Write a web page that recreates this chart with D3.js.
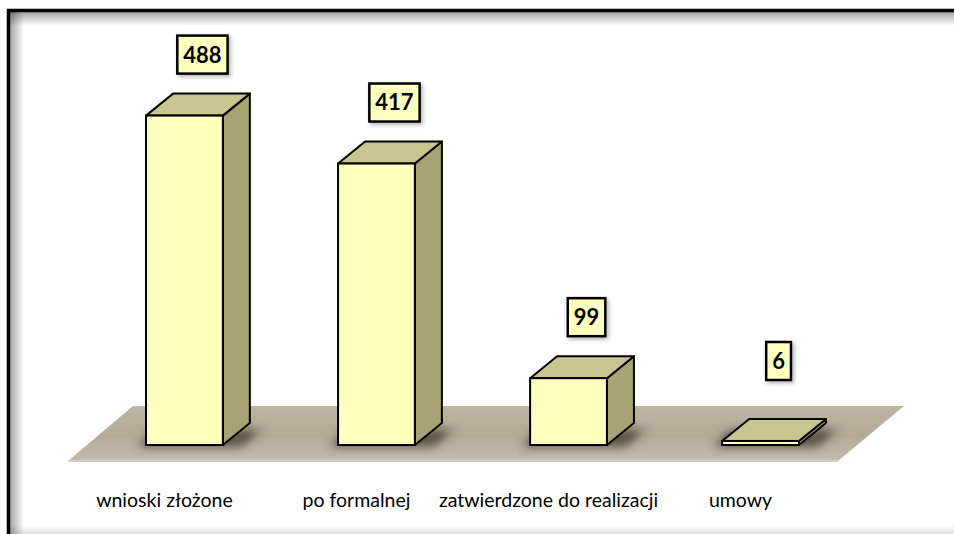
<!DOCTYPE html>
<html>
<head>
<meta charset="utf-8">
<script src="https://cdn.jsdelivr.net/npm/d3@7"></script>
<style>
  html, body { margin: 0; padding: 0; background: #fff; overflow: hidden; }
  svg { display: block; }
</style>
</head>
<body>
<script>
'use strict';

// chart values
const categories = ["wnioski złożone", "po formalnej", "zatwierdzone do realizacji", "umowy"];
const values = [488, 417, 99, 6];
const valueLabels = ["488", "417", "99", "6"];

(function() {

    const W = 954, H = 534;
    const depth = { dx: 27, dy: -22 };

    const svg = d3.select("body").append("svg")
        .attr("width", W)
        .attr("height", H);

    const defs = svg.append("defs");

    // soft shadows
    const blur = defs.append("filter").attr("id", "blur")
        .attr("x", "-50%").attr("y", "-50%").attr("width", "200%").attr("height", "200%");
    blur.append("feGaussianBlur").attr("stdDeviation", 5);

    const drop = defs.append("filter").attr("id", "drop")
        .attr("x", "-30%").attr("y", "-30%").attr("width", "160%").attr("height", "160%");
    drop.append("feDropShadow").attr("dx", 2).attr("dy", 2)
        .attr("stdDeviation", 2).attr("flood-color", "#000").attr("flood-opacity", 0.3);

    // floor gradient
    const fg = defs.append("linearGradient").attr("id", "floorGrad")
        .attr("x1", 0).attr("y1", 0).attr("x2", 0).attr("y2", 1);
    fg.append("stop").attr("offset", "0%").attr("stop-color", "#bdb4a3");
    fg.append("stop").attr("offset", "55%").attr("stop-color", "#b3aa98");
    fg.append("stop").attr("offset", "100%").attr("stop-color", "#c4bcad");

    // frame shading
    const topG = defs.append("linearGradient").attr("id", "topShade")
        .attr("x1", 0).attr("y1", 0).attr("x2", 0).attr("y2", 1);
    topG.append("stop").attr("offset", "0%").attr("stop-color", "#000").attr("stop-opacity", 0.35);
    topG.append("stop").attr("offset", "100%").attr("stop-color", "#000").attr("stop-opacity", 0);
    const leftG = defs.append("linearGradient").attr("id", "leftShade")
        .attr("x1", 0).attr("y1", 0).attr("x2", 1).attr("y2", 0);
    leftG.append("stop").attr("offset", "0%").attr("stop-color", "#000").attr("stop-opacity", 0.35);
    leftG.append("stop").attr("offset", "100%").attr("stop-color", "#000").attr("stop-opacity", 0);
    const botG = defs.append("linearGradient").attr("id", "botShade")
        .attr("x1", 0).attr("y1", 1).attr("x2", 0).attr("y2", 0);
    botG.append("stop").attr("offset", "0%").attr("stop-color", "#000").attr("stop-opacity", 0.12);
    botG.append("stop").attr("offset", "100%").attr("stop-color", "#000").attr("stop-opacity", 0);

    svg.append("rect").attr("width", W).attr("height", H).attr("fill", "#fff");

    // frame: heavy black top/left edge with an inner fade
    svg.append("rect").attr("x", 10).attr("y", 12).attr("width", W - 10).attr("height", 14)
        .attr("fill", "url(#topShade)");
    svg.append("rect").attr("x", 10).attr("y", 12).attr("width", 14).attr("height", H - 12)
        .attr("fill", "url(#leftShade)");
    svg.append("rect").attr("x", 10).attr("y", H - 9).attr("width", W - 10).attr("height", 9)
        .attr("fill", "url(#botShade)");
    svg.append("path")
        .attr("d", `M8.5,${H} V10.5 H${W}`)
        .attr("fill", "none").attr("stroke", "#000").attr("stroke-width", 3.5);

    // scales
    const x = d3.scaleBand()
        .domain(categories)
        .range([50, 895])
        .paddingInner(0.6)
        .paddingOuter(0.5);

    const y = d3.scaleLinear()
        .domain([0, 500])
        .range([445, 107.5]);

    const base = y(0);

    // floor
    const floorFront = base + 16, floorBack = base - 39;
    svg.append("path")
        .attr("d", `M68,${floorFront} L133,${floorBack} L904,${floorBack} L838,${floorFront} Z`)
        .attr("fill", "url(#floorGrad)");
    svg.append("line")
        .attr("x1", 68).attr("x2", 838).attr("y1", floorFront).attr("y2", floorFront)
        .attr("stroke", "#cfcfcf").attr("stroke-width", 2);

    // bar shadows on the floor
    svg.append("g").selectAll("path")
        .data(categories)
        .join("path")
        .attr("d", (d) => {
            const x0 = x(d) - 8, x1 = x(d) + x.bandwidth() + depth.dx + 12;
            return `M${x0},${base + 2} L${x0 + 14},${base - 14} L${x1},${base - 16} L${x1 - 20},${base + 2} Z`;
        })
        .attr("fill", "#3d372c")
        .attr("opacity", 0.75)
        .attr("filter", "url(#blur)");

    const bars = svg.append("g").selectAll("g")
        .data(values)
        .join("g");

    const bw = x.bandwidth();
    const xl = (d, i) => x(categories[i]);

    // right side face
    bars.append("path")
        .attr("d", (d, i) => {
            const x1 = xl(d, i) + bw, yt = y(d);
            return `M${x1},${base} L${x1},${yt} L${x1 + depth.dx},${yt + depth.dy} L${x1 + depth.dx},${base + depth.dy} Z`;
        })
        .attr("fill", "#a6a474")
        .attr("stroke", "#000").attr("stroke-width", 2).attr("stroke-linejoin", "round");

    // top face
    bars.append("path")
        .attr("d", (d, i) => {
            const x0 = xl(d, i), yt = y(d);
            return `M${x0},${yt} L${x0 + depth.dx},${yt + depth.dy} L${x0 + bw + depth.dx},${yt + depth.dy} L${x0 + bw},${yt} Z`;
        })
        .attr("fill", "#c8c690")
        .attr("stroke", "#000").attr("stroke-width", 2).attr("stroke-linejoin", "round");

    // front face
    bars.append("rect")
        .attr("x", (d, i) => xl(d, i))
        .attr("y", (d) => y(d))
        .attr("width", bw)
        .attr("height", (d) => base - y(d))
        .attr("fill", "#ffffbe")
        .attr("stroke", "#000").attr("stroke-width", 2);

    // value labels in boxes
    const labels = svg.append("g").selectAll("g")
        .data(values)
        .join("g")
        .attr("transform", (d, i) => {
            const cx = xl(d, i) + bw / 2 + 18;
            const top = Math.min(y(d) + depth.dy, base - 45);
            return `translate(${cx},${top - 39})`;
        });

    labels.each(function(d, i) {
        const g = d3.select(this);
        const t = g.append("text")
            .attr("text-anchor", "middle")
            .attr("y", 0)
            .attr("dy", "0.36em")
            .attr("font-family", "Lato, 'Open Sans', sans-serif")
            .attr("font-weight", "bold")
            .attr("font-size", 22)
            .attr("fill", "#000")
            .text(valueLabels[i]);
        const w = t.node().getComputedTextLength() + 12;
        g.insert("rect", "text")
            .attr("x", -w / 2).attr("y", -19)
            .attr("width", w).attr("height", 38)
            .attr("fill", "#ffffc0")
            .attr("stroke", "#000").attr("stroke-width", 2.5)
            .attr("filter", "url(#drop)");
    });

    // category labels
    svg.append("g").selectAll("text")
        .data(categories)
        .join("text")
        .attr("x", (d) => x(d) + bw / 2 - 20)
        .attr("y", 507)
        .attr("text-anchor", "middle")
        .attr("font-family", "Lato, 'Open Sans', sans-serif")
        .attr("font-size", 19.5)
        .attr("fill", "#000")
        .text((d) => d);

})();
</script>
</body>
</html>
